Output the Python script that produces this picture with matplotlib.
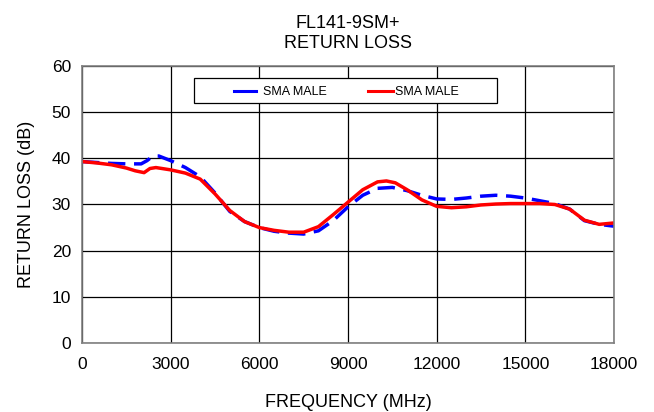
import matplotlib
matplotlib.use("Agg")
import matplotlib.pyplot as plt
from matplotlib.patches import Rectangle

plt.rcParams["font.family"] = ["Liberation Sans", "DejaVu Sans"]

# frequency (MHz) and return loss (dB)
freq_blue = [0, 500, 1000, 1500, 2000, 2200, 2400, 2600, 2800, 3000, 3500, 4000,
             4500, 5000, 5500, 6000, 6500, 7000, 7500, 8000, 8500, 9000, 9500,
             10000, 10500, 11000, 11500, 12000, 12500, 13000, 13500, 14000,
             14500, 15000, 15500, 16000, 16500, 17000, 17500, 18000]
rl_blue = [39.3, 39.1, 38.9, 38.8, 38.8, 39.5, 40.5, 40.5, 40.0, 39.5, 38.0, 36.0,
           32.5, 28.5, 26.3, 25.0, 24.2, 23.8, 23.6, 24.3, 26.5, 29.5, 32.0,
           33.5, 33.7, 33.0, 32.0, 31.2, 31.1, 31.4, 31.8, 32.0,
           31.8, 31.4, 30.8, 30.2, 29.0, 26.5, 25.7, 25.3]

freq_red = [0, 500, 1000, 1500, 1800, 2100, 2300, 2500, 2800, 3000, 3500, 4000,
            4500, 5000, 5500, 6000, 6500, 7000, 7500, 8000, 8500, 9000, 9500,
            10000, 10300, 10600, 11000, 11500, 12000, 12500, 13000, 13500, 14000,
            14500, 15000, 15500, 16000, 16500, 17000, 17500, 18000]
rl_red = [39.3, 39.0, 38.6, 37.9, 37.3, 36.9, 37.8, 38.0, 37.7, 37.5, 36.8, 35.5,
          32.3, 28.7, 26.3, 25.0, 24.4, 24.0, 24.0, 25.2, 27.8, 30.5, 33.2,
          34.9, 35.1, 34.7, 33.2, 31.0, 29.6, 29.3, 29.5, 29.9, 30.1,
          30.2, 30.2, 30.2, 30.0, 29.0, 26.6, 25.7, 26.0]

labels = ["SMA MALE", "SMA MALE"]
x_ticks = [0, 3000, 6000, 9000, 12000, 15000, 18000]
y_ticks = [0, 10, 20, 30, 40, 50, 60]

fig = plt.figure(figsize=(6.54, 4.12), dpi=100)
ax = fig.add_axes([0.1254, 0.1675, 0.8134, 0.6723])

ax.plot(freq_blue, rl_blue, color="#0000ff", lw=2.5, dashes=(5, 2.5))
ax.plot(freq_red, rl_red, color="#ff0000", lw=2.5)

ax.set_xlim(0, 18000)
ax.set_ylim(0, 60)
ax.set_xticks(x_ticks)
ax.set_yticks(y_ticks)
ax.tick_params(labelsize=12.5, length=0)
ax.tick_params(axis="x", pad=10)
ax.tick_params(axis="y", pad=8)
ax.grid(True, color="black", lw=0.9)
for s in ax.spines.values():
    s.set_color("#808080")
    s.set_linewidth(1.2)

ax.set_xlabel("FREQUENCY (MHz)", fontsize=13, labelpad=16)
ax.set_ylabel("RETURN LOSS (dB)", fontsize=13, labelpad=12)
ax.set_title("FL141-9SM+\nRETURN LOSS", fontsize=13, pad=13, linespacing=1.25)

# hand-placed legend box (axes fraction)
ax.add_patch(Rectangle((0.2105, 0.8664), 0.5696, 0.0903, transform=ax.transAxes,
                       facecolor="white", edgecolor="black", lw=0.9, zorder=5))
legend_y = 0.909
for (x0, x1, tx), col, lab in zip([(0.2857, 0.3271, 0.3402), (0.5376, 0.5846, 0.5883)],
                                  ["#0000ff", "#ff0000"], labels):
    ax.plot([x0, x1], [legend_y, legend_y], color=col, lw=2.2,
            transform=ax.transAxes, zorder=6, clip_on=False)
    ax.text(tx, legend_y - 0.004, lab, transform=ax.transAxes, fontsize=9,
            va="center", ha="left", zorder=6)

fig.savefig("out.png", dpi=100, facecolor="white")
